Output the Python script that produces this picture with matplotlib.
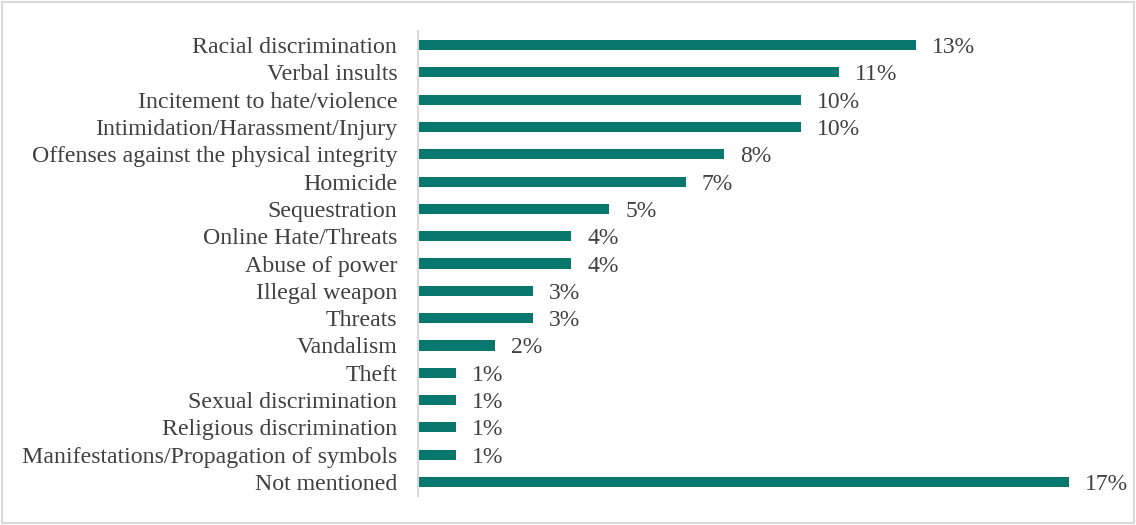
import matplotlib

matplotlib.use("Agg")
import matplotlib.pyplot as plt
from matplotlib.patches import Rectangle

categories = [
    "Racial discrimination",
    "Verbal insults",
    "Incitement to hate/violence",
    "Intimidation/Harassment/Injury",
    "Offenses against the physical integrity",
    "Homicide",
    "Sequestration",
    "Online Hate/Threats",
    "Abuse of power",
    "Illegal weapon",
    "Threats",
    "Vandalism",
    "Theft",
    "Sexual discrimination",
    "Religious discrimination",
    "Manifestations/Propagation of symbols",
    "Not mentioned",
]
values = [13, 11, 10, 10, 8, 7, 5, 4, 4, 3, 3, 2, 1, 1, 1, 1, 17]

BAR_COLOR = "#08786F"
TEXT_COLOR = "#404040"

plt.rcParams["font.family"] = ["Liberation Serif", "DejaVu Serif"]

fig = plt.figure(figsize=(11.36, 5.25), dpi=100)
ax = fig.add_axes([0.368, 0.0558, 0.6065, 0.8844])

ypos = list(range(len(categories)))
ax.barh(ypos, values, height=0.37, color=BAR_COLOR)
ax.set_ylim(len(categories) - 0.5, -0.5)
ax.set_xlim(0, 18)

ax.set_yticks(ypos)
ax.set_yticklabels(categories, fontsize=17.2, color=TEXT_COLOR, va="center_baseline")
ax.tick_params(axis="y", length=0, pad=15)
ax.set_xticks([])

for y, v in zip(ypos, values):
    ax.annotate(f"{v}%", (v, y), xytext=(16, 0), textcoords="offset pixels",
                va="center_baseline", ha="left", fontsize=17, color=TEXT_COLOR)

for side in ("top", "right", "bottom"):
    ax.spines[side].set_visible(False)
ax.spines["left"].set_color("#d9d9d9")
ax.spines["left"].set_linewidth(1.5)

# light grey frame around the whole chart
fig.patches.append(Rectangle((0.002, 0.004), 0.996, 0.992, transform=fig.transFigure,
                             fill=False, edgecolor="#d9d9d9", linewidth=1.5))

fig.savefig("out.png", dpi=100)
